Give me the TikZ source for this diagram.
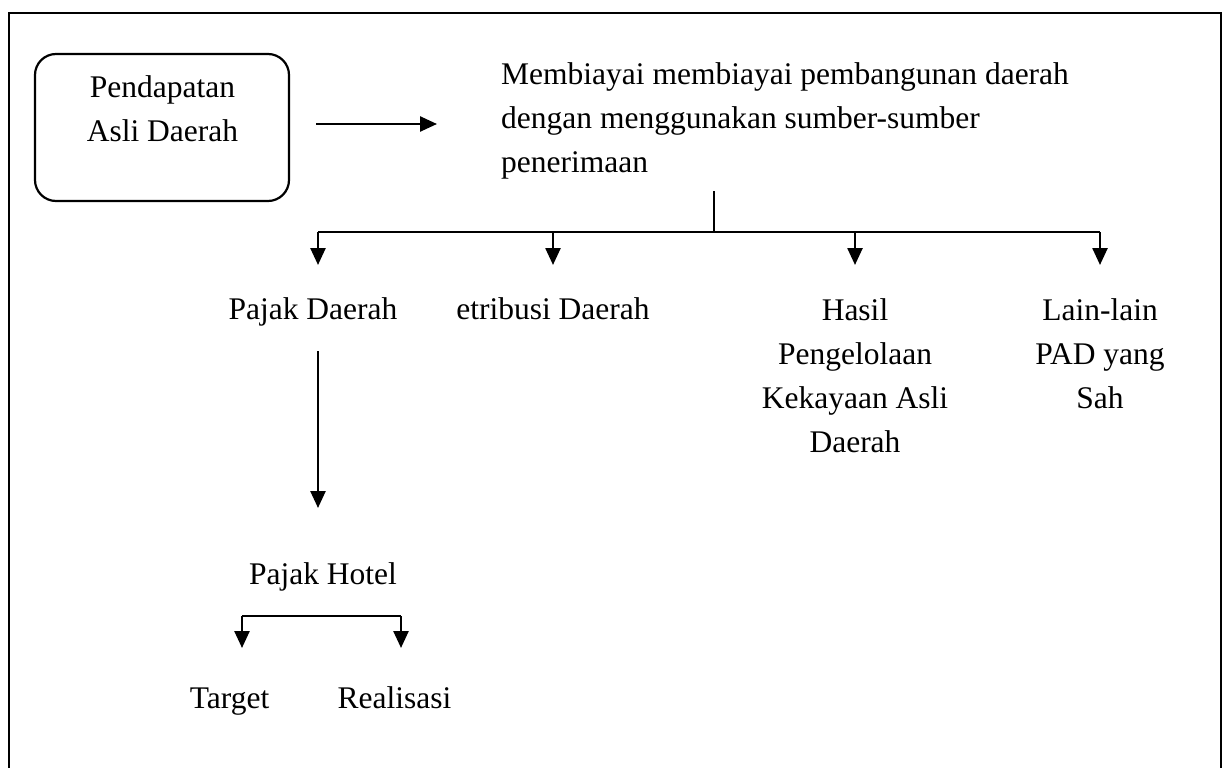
\documentclass[tikz,border=0pt]{standalone}
\usepackage{fontspec}
\setmainfont{Liberation Serif}
\usetikzlibrary{arrows.meta}
\begin{document}
\begin{tikzpicture}[x=1pt,y=-1pt,
  txt/.style={inner sep=0pt,align=center,font=\fontsize{31.5}{44}\selectfont},
  one/.style={txt,anchor=base},
  ln/.style={line width=2.5pt},
  arr/.style={ln,-{Triangle[width=15pt,length=17pt]}}]
\useasboundingbox (0,0) rectangle (1226,768);
% frame (open at bottom)
\draw[ln] (9,768) -- (9,13) -- (1221,13) -- (1221,768);
% rounded box
\node[draw,line width=2.2pt,rounded corners=21pt,minimum width=254pt,minimum height=147pt,inner sep=0pt] (pad) at (162,127.5) {};
\node[txt] (padt) at (162.5,109) {Pendapatan\\Asli Daerah};
\coordinate (a1) at (316,124);
\coordinate (a2) at (437,124);
\draw[arr] (a1) -- (a2);
\node[txt,align=left,anchor=west] (mem) at (501,121) {Membiayai membiayai pembangunan daerah\\dengan menggunakan sumber-sumber\\penerimaan};
\coordinate (v1) at (714,191);
\coordinate (v2) at (714,232);
\coordinate (hL) at (318,232);
\coordinate (hR) at (1100,232);
\coordinate (h2) at (553,232);
\coordinate (h3) at (855,232);
\draw[ln] (v1) -- (v2);
\draw[ln] (hL) -- (hR);
\coordinate (t1) at (318,265);
\coordinate (t2) at (553,265);
\coordinate (t3) at (855,265);
\coordinate (t4) at (1100,265);
\draw[arr] (hL) -- (t1);
\draw[arr] (h2) -- (t2);
\draw[arr] (h3) -- (t3);
\draw[arr] (hR) -- (t4);
\node[one] (pd) at (313,319) {Pajak Daerah};
\node[one] (rd) at (553,319) {etribusi Daerah};
\node[txt] (hp) at (855,376) {Hasil\\Pengelolaan\\Kekayaan Asli\\Daerah};
\node[txt] (ll) at (1100,354) {Lain-lain\\PAD yang\\Sah};
\coordinate (p1) at (318,351);
\coordinate (p2) at (318,508);
\draw[arr] (p1) -- (p2);
\node[one] (ph) at (323,584) {Pajak Hotel};
\coordinate (b1) at (242,648);
\coordinate (b2) at (242,616);
\coordinate (b3) at (401,616);
\coordinate (b4) at (401,648);
\draw[arr] (b2) -- (b1);
\draw[arr] (b3) -- (b4);
\draw[ln] (b2) -- (b3);
\node[one] (tg) at (229.5,708) {Target};
\node[one] (rl) at (394.5,708) {Realisasi};
\end{tikzpicture}
\end{document}
